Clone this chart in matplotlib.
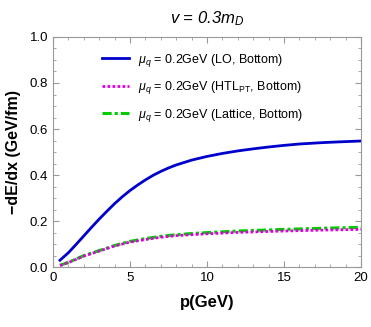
import numpy as np
import matplotlib
matplotlib.use('Agg')
import matplotlib.pyplot as plt
from matplotlib.ticker import MultipleLocator

# momentum grid (GeV) and energy loss values
p = [0.45, 1, 1.5, 2, 2.5, 3, 3.5, 4, 4.5, 5, 5.5, 6, 6.5, 7, 7.5, 8, 9, 10,
     11, 12, 13, 14, 15, 16, 17.5, 18.5, 20]
de_lo = [0.03, 0.063, 0.099, 0.136, 0.173, 0.209, 0.243, 0.276, 0.306, 0.333,
         0.357, 0.379, 0.399, 0.416, 0.431, 0.444, 0.465, 0.481, 0.494, 0.505,
         0.514, 0.522, 0.529, 0.535, 0.541, 0.544, 0.548]
p_low = [0.45, 1, 2, 3, 4, 5, 6, 7, 8, 9, 10, 12, 15, 17.5, 20]
de_htl = [0.007, 0.02, 0.048, 0.07, 0.092, 0.109, 0.12, 0.13, 0.137, 0.141,
          0.145, 0.151, 0.157, 0.161, 0.164]
de_lat = [0.008, 0.021, 0.05, 0.072, 0.094, 0.112, 0.124, 0.134, 0.141, 0.146,
          0.15, 0.157, 0.164, 0.169, 0.173]

labels = [r'$\mu_q$ = 0.2GeV (LO, Bottom)',
          r'$\mu_q$ = 0.2GeV (HTL$_{\rm PT}$, Bottom)',
          r'$\mu_q$ = 0.2GeV (Lattice, Bottom)']

plt.rcParams['font.family'] = ['Liberation Sans', 'DejaVu Sans']
plt.rcParams['mathtext.fontset'] = 'custom'
plt.rcParams['mathtext.it'] = 'Liberation Sans:italic'
plt.rcParams['mathtext.rm'] = 'Liberation Sans'

fig = plt.figure(figsize=(3.71, 3.27), dpi=100)
ax = fig.add_axes([0.143, 0.183, 0.830, 0.704])

ax.plot(p, de_lo, color='#0000cc', lw=2.0, label=labels[0])
ax.plot(p_low, de_lat, color='#00cc00', lw=2.2, ls=(0, (3, 1, 1, 1)), label=labels[2])
ax.plot(p_low, de_htl, color='#dd00dd', lw=2.0, ls=(0, (1, 0.8)), label=labels[1])

ax.set_xlim(0, 20)
ax.set_ylim(0, 1.0)
ax.xaxis.set_major_locator(MultipleLocator(5))
ax.xaxis.set_minor_locator(MultipleLocator(1))
ax.yaxis.set_major_locator(MultipleLocator(0.2))
ax.yaxis.set_minor_locator(MultipleLocator(0.05))
ax.tick_params(which='both', direction='in', top=True, right=True, color='#999999',
               labelsize=9.5)
ax.tick_params(which='major', length=4)
ax.tick_params(which='minor', length=2)
for s in ax.spines.values():
    s.set_color('#999999')

ax.set_xlabel('p(GeV)', fontsize=12, fontweight='bold', labelpad=8)
ax.set_ylabel('\u2212dE/dx (GeV/fm)', fontsize=11.5, fontweight='bold', labelpad=6)
ax.set_title(r'$v$ = 0.3$m_D$', fontsize=12, style='italic', pad=10)

h, l = ax.get_legend_handles_labels()
order = [0, 2, 1]
ax.legend([h[i] for i in order], [l[i] for i in order], loc='upper center',
          bbox_to_anchor=(0.485, 0.985), frameon=False, fontsize=9,
          handlelength=2.2, handletextpad=0.7, labelspacing=0.85)

fig.savefig('out.png', dpi=100)
